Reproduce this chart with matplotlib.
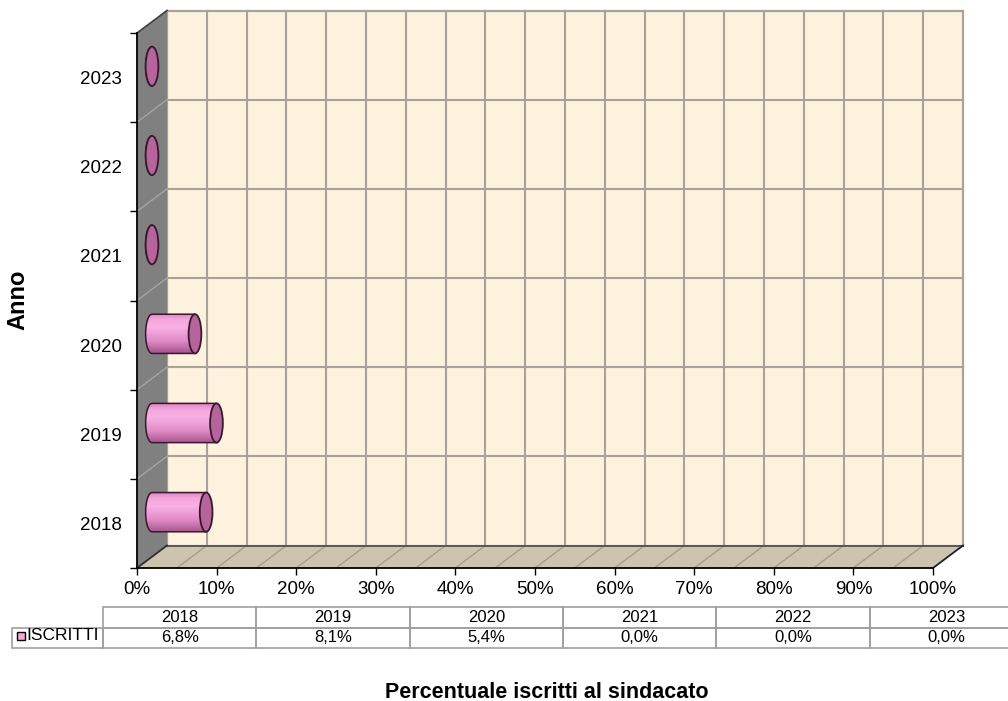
import numpy as np
import matplotlib
matplotlib.use("Agg")
import matplotlib.pyplot as plt
from matplotlib.patches import Rectangle, Ellipse, Polygon, PathPatch
from matplotlib.path import Path
from matplotlib.transforms import offset_copy, IdentityTransform
from matplotlib.colors import LinearSegmentedColormap

plt.rcParams["font.family"] = ["Liberation Sans", "DejaVu Sans"]

# ---- data -------------------------------------------------------------
years = ["2018", "2019", "2020", "2021", "2022", "2023"]
iscritti = [6.8, 8.1, 5.4, 0.0, 0.0, 0.0]
x_ticks = list(range(0, 101, 10))
series_label = "ISCRITTI"
x_title = "Percentuale iscritti al sindacato"
y_title = "Anno"

# ---- figure / front plane ----------------------------------------------
W, H = 1008, 701
fig = plt.figure(figsize=(W / 100, H / 100), dpi=100)
fig.patch.set_facecolor("white")
ax = fig.add_axes([137 / W, (H - 568) / H, 796 / W, 535 / H])
ax.patch.set_visible(False)
for s in ("top", "right"):
    ax.spines[s].set_visible(False)
for s in ("left", "bottom"):
    ax.spines[s].set_color("black")
    ax.spines[s].set_linewidth(1.3)
    ax.spines[s].set_zorder(6)

XMIN, XMAX = 0, 100
YMIN, YMAX = -0.5, len(years) - 0.5
ax.set_xlim(XMIN, XMAX)
ax.set_ylim(YMIN, YMAX)

# depth of the 3-D box in pixels
DX, DY = 30, 22.5
back = offset_copy(ax.transData, fig=fig, x=DX, y=DY, units="dots")
mid = offset_copy(ax.transData, fig=fig, x=DX / 2, y=DY / 2, units="dots")


def disp(x, y, depth):
    px, py = ax.transData.transform((x, y))
    return (px + depth * DX, py + depth * DY)


ident = IdentityTransform()

# ---- back wall -------------------------------------------------------------
ax.add_patch(Rectangle((XMIN, YMIN), XMAX - XMIN, YMAX - YMIN, transform=back,
                       fc="#FCF2DE", ec="#A8A299", lw=1.6, zorder=0.6, clip_on=False))
for x in np.arange(5, 100, 5):
    ax.plot([x, x], [YMIN, YMAX], transform=back, color="#A8A299", lw=1.5,
            zorder=0.7, clip_on=False)
for y in np.arange(YMIN + 1, YMAX, 1):
    ax.plot([XMIN, XMAX], [y, y], transform=back, color="#A8A299", lw=1.5,
            zorder=0.7, clip_on=False)

# ---- left wall -------------------------------------------------------------
ax.add_patch(Polygon([disp(0, YMIN, 0), disp(0, YMAX, 0), disp(0, YMAX, 1), disp(0, YMIN, 1)],
                     closed=True, transform=ident, fc="#808080", ec="none",
                     zorder=0.8, clip_on=False))
for y in np.arange(YMIN + 1, YMAX, 1):
    p0, p1 = disp(0, y, 0), disp(0, y, 1)
    ax.plot([p0[0], p1[0]], [p0[1], p1[1]], transform=ident, color="#A4A4A4",
            lw=1.0, zorder=0.9, clip_on=False)
p0, p1 = disp(0, YMAX, 0), disp(0, YMAX, 1)
ax.plot([p0[0], p1[0]], [p0[1], p1[1]], transform=ident, color="#404040",
        lw=1.2, zorder=0.9, clip_on=False)

# ---- floor -----------------------------------------------------------------
ax.add_patch(Polygon([disp(XMIN, YMIN, 0), disp(XMAX, YMIN, 0), disp(XMAX, YMIN, 1), disp(XMIN, YMIN, 1)],
                     closed=True, transform=ident, fc="#CCC4AE", ec="none",
                     zorder=0.8, clip_on=False))
for x in np.arange(5, 100, 5):
    p0, p1 = disp(x, YMIN, 0), disp(x, YMIN, 1)
    ax.plot([p0[0], p1[0]], [p0[1], p1[1]], transform=ident, color="#A69E8A",
            lw=1.0, zorder=0.9, clip_on=False)
for (xa, da), (xb, db), col in [((XMIN, 1), (XMAX, 1), "#505050"),
                                ((XMAX, 0), (XMAX, 1), "#202020"),
                                ((XMIN, 0), (XMIN, 1), "#303030")]:
    p0, p1 = disp(xa, YMIN, da), disp(xb, YMIN, db)
    ax.plot([p0[0], p1[0]], [p0[1], p1[1]], transform=ident, color=col,
            lw=1.3, zorder=1.0, clip_on=False)

# ---- cylinders -------------------------------------------------------------
shade = LinearSegmentedColormap.from_list(
    "pink_cyl",
    [(0.0, "#A8568E"), (0.3, "#E08AC6"), (0.65, "#F9B0E4"),
     (0.85, "#F5A6DC"), (1.0, "#D884C0")])
edge = "#3A1730"
R = 0.22       # half height in category units
A = 0.8        # half width of the end caps, in percent
grad = np.linspace(0, 1, 64).reshape(-1, 1)
t = np.linspace(0, np.pi, 40)
for i, v in enumerate(iscritti):
    verts = [(v, i + R), (0, i + R)]
    verts += [(-A * np.sin(tt), i + R * np.cos(tt)) for tt in t]
    verts += [(v, i - R), (v, i + R)]
    body = PathPatch(Path(verts), transform=mid, fc="none", ec=edge, lw=1.1,
                     zorder=4, clip_on=False)
    ax.add_patch(body)
    im = ax.imshow(grad, cmap=shade, extent=(-A, max(v, 0.01), i - R, i + R),
                   origin="lower", aspect="auto", transform=mid, zorder=3.5,
                   interpolation="bilinear")
    im.set_clip_path(body)
    ax.add_patch(Ellipse((v, i), 2 * A, 2 * R, transform=mid, fc="#B5649C",
                         ec=edge, lw=1.3, zorder=5, clip_on=False))

ax.set_xlim(XMIN, XMAX)
ax.set_ylim(YMIN, YMAX)

# ---- axes ticks ----------------------------------------------------------
ax.set_xticks(x_ticks)
ax.set_xticklabels([f"{x}%" for x in x_ticks])
ax.tick_params(axis="x", direction="out", length=5, width=1, labelsize=13.5,
               pad=4, colors="black")
ax.set_yticks(np.arange(YMIN, YMAX + 0.01, 1))
ax.set_yticklabels([])
ax.tick_params(axis="y", which="major", direction="out", length=5, width=1)
ax.set_yticks(range(len(years)), minor=True)
ax.set_yticklabels(years, minor=True)
ax.tick_params(axis="y", which="minor", length=0, pad=11, labelsize=13.5)

# ---- data table ------------------------------------------------------------
labels = [f"{v:.1f}".replace(".", ",") + "%" for v in iscritti]
tx0, tx1, ty_top, ty_bot = 12, 1023, 607, 648
bbox = [(tx0 - 137) / 796, (568 - ty_bot) / 535, (tx1 - tx0) / 796, (ty_bot - ty_top) / 535]
tbl = ax.table(cellText=[[""] + labels], colLabels=[""] + years,
               colWidths=[91] + [153.3] * len(years), cellLoc="center", bbox=bbox)
tbl.auto_set_font_size(False)
tbl.set_fontsize(12)
for (r, c), cell in tbl.get_celld().items():
    cell.set_edgecolor("#A0A0A0")
    cell.set_linewidth(1.2)
    cell.set_facecolor("none")
    cell.set_clip_on(False)
tbl[0, 0].visible_edges = ""
tbl.set_clip_on(False)

# legend key in the row label cell
fig.add_artist(Rectangle((17, H - 640), 8, 8, transform=ident, fc="#F5A8DC",
                         ec="black", lw=1.0))
fig.text(26 / W, 1 - 636 / H, series_label, ha="left", va="center", fontsize=12.5)

# ---- titles ----------------------------------------------------------------
fig.text(547 / W, 1 - 692 / H, x_title, ha="center", va="center",
         fontsize=15.5, fontweight="bold")
fig.text(18 / W, 1 - 300 / H, y_title, ha="center", va="center", rotation=90,
         fontsize=17, fontweight="bold")

fig.savefig("out.png", dpi=100, facecolor="white")
